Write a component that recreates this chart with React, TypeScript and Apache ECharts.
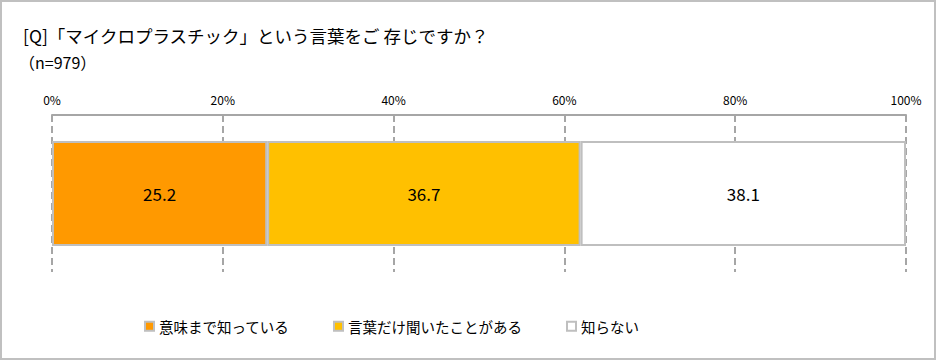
import React, { useEffect, useRef } from "react";
import * as echarts from "echarts";

const titleLine1 = "[Q]「マイクロプラスチック」という言葉をご 存じですか？";
const titleLine2 = "（n=979）";
const categories = ["全体"];
const seriesNames = ["意味まで知っている", "言葉だけ聞いたことがある", "知らない"];
const seriesValues = [[25.2], [36.7], [38.1]];
const seriesColors = ["#FF9900", "#FFC000", "#FFFFFF"];
const legendLefts = [139, 328, 561];
const xTicks = { min: 0, max: 100, interval: 20 };

const FONT = "'Noto Sans CJK JP', 'Noto Sans', sans-serif";

export default function App() {
  const ref = useRef<HTMLDivElement>(null);
  useEffect(() => {
    document.body.style.margin = "0";
    const chart = echarts.init(ref.current!, undefined, { renderer: "svg" });
    chart.setOption({
      animation: false,
      backgroundColor: "#ffffff",
      textStyle: { fontFamily: FONT },
      title: [
        {
          text: titleLine1,
          left: 18,
          top: 22,
          textStyle: { fontSize: 17.5, fontWeight: "normal", color: "#000", fontFamily: FONT },
        },
        {
          text: titleLine2,
          left: 14,
          top: 49,
          textStyle: { fontSize: 16, fontWeight: "normal", color: "#000", fontFamily: FONT },
        },
      ],
      graphic: [
        {
          type: "rect",
          shape: { x: 1, y: 1, width: 934, height: 358 },
          style: { fill: "none", stroke: "#c0c0c0", lineWidth: 2 },
          silent: true,
        },
      ],
      legend: seriesNames.map((n, i) => ({
        data: [n],
        left: legendLefts[i],
        top: 314,
        icon: "rect",
        itemWidth: 9,
        itemHeight: 9,
        itemGap: 0,
        textStyle: { fontSize: 14.5, color: "#000", fontFamily: FONT },
      })),
      grid: { left: 52, right: 30, top: 115, bottom: 88, containLabel: false },
      xAxis: {
        type: "value",
        position: "top",
        min: xTicks.min,
        max: xTicks.max,
        interval: xTicks.interval,
        axisLine: { show: true, lineStyle: { color: "#a6a6a6", width: 2 } },
        axisTick: { show: false },
        axisLabel: {
          formatter: "{value}%",
          fontSize: 12,
          color: "#000",
          margin: 10,
          fontFamily: FONT,
        },
        splitLine: {
          show: true,
          lineStyle: { color: "#a6a6a6", type: [7, 4], width: 2 },
        },
      },
      yAxis: {
        type: "category",
        data: categories,
        show: false,
        inverse: true,
      },
      series: seriesNames.map((n, i) => ({
        name: n,
        type: "bar",
        stack: "total",
        barWidth: 105,
        data: seriesValues[i],
        itemStyle: { color: seriesColors[i], borderColor: "#bfbfbf", borderWidth: 2 },
        label: {
          show: true,
          position: "inside",
          formatter: (p: any) => p.value.toFixed(1),
          fontSize: 17,
          color: "#000",
          fontFamily: FONT,
        },
      })),
    });
    return () => chart.dispose();
  }, []);
  return <div ref={ref} style={{ width: 936, height: 360 }} />;
}
